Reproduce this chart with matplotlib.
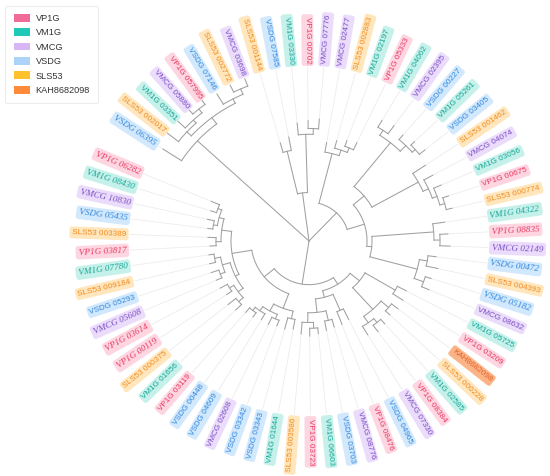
import numpy as np
import matplotlib
matplotlib.use("Agg")
import matplotlib.pyplot as plt
from matplotlib.patches import Patch

# leaf labels, clockwise from the upper-left gap
LABELS = [
    "VSDG 06395", "SLS53 002017", "VM1G 03351", "VMCG 05880", "VP1G 057995",
    "VSDG 07146", "SLS53 002772", "VMCG 03698", "SLS53 001144", "VSDG 07585",
    "VM1G 03330", "VP1G 00702", "VMCG 07776", "VMCG 02477", "SLS53 002883",
    "VM1G 02197", "VP1G 05333", "VM1G 04062", "VMCG 02395", "VSDG 00227",
    "VM1G 05261", "VSDG 03405", "SLS53 001462", "VMCG 04074", "VM1G 03056",
    "VP1G 00675", "SLS53 000774", "VM1G 04322", "VP1G 08835", "VMCG 02149",
    "VSDG 00472", "SLS53 004393", "VSDG 05182", "VMCG 08632", "VM1G 05725",
    "VP1G 03209", "KAH8682098", "SLS53 000228", "VM1G 02585", "VP1G 08384",
    "VMCG 07330", "VSDG 04965", "VP1G 08476", "VMCG 08776", "VSDG 03703",
    "VM1G 06603", "VP1G 03723", "SLS53 003586", "VM1G 01644", "VSDG 03343",
    "VSDG 03342", "VMCG 02608", "VSDG 04609", "VSDG 00448", "VP1G 03119",
    "VM1G 01656", "SLS53 000375", "VP1G 00119", "VP1G 03614", "VMCG 05608",
    "VSDG 05293", "SLS53 009184", "VM1G 07780", "VP1G 03817", "SLS53 003389",
    "VSDG 05435", "VMCG 10830", "VM1G 08430", "VP1G 06282",
]

# labels drawn in an italic serif face in the original
SERIF_LABELS = [
    "VSDG 06395", "VP1G 06282", "VM1G 08430", "VMCG 10830", "VSDG 05435",
    "VP1G 03817", "VM1G 07780", "VMCG 05608", "VP1G 03614", "VP1G 00119",
    "VM1G 04322", "VP1G 08835", "VMCG 02149", "VSDG 00472", "VSDG 05182",
]

GROUPS = ["VP1G", "VM1G", "VMCG", "VSDG", "SLS53", "KAH8682098"]
LEGEND_COLORS = ["#f06b98", "#1fc9b6", "#d8b6f6", "#acd3f8", "#ffc22c", "#ff8a3a"]
BOX_COLORS = ["#fdd6e2", "#c6f1ea", "#eadcfa", "#d2e8fc", "#ffe6bc", "#fcb487"]
TEXT_COLORS = ["#e9385f", "#13a697", "#7a4cc6", "#2d87e0", "#f28a1e", "#e2602a"]

# tree topology, leaves are 1-based positions in LABELS, lengths in px
NEWICK = (
    "((1:22,((2:14,(3:10,(4:6,5:6):5):4):6,(6:12,(7:8,8:8):6):5):8):152,"
    "((9:10,10:14):45,(11:12,(12:8,13:10):6):60):50,"
    "((14:10,(15:8,(16:6,17:8):5):6):53,"
    "((((18:8,19:10):6,(20:6,(21:5,22:7):4):8):58,"
    "(23:15,(24:10,(25:8,(26:6,27:6):5):5):6):53):14,"
    "((28:12,(29:8,30:10):6):62,((31:8,32:12):8,(33:6,34:8):10):49):5):18):40,"
    "(((((64:6,65:8):5,((66:5,67:7):4,(68:6,69:9):4):5):10,"
    "(((60:6,61:8):5,(62:6,63:5):6):8,((56:8,57:10):6,(58:6,59:8):5):6):4):20,"
    "((49:10,50:12):8,((51:6,52:8):5,(53:7,(54:5,55:6):4):5):8):16):13,"
    "(((35:10,36:12):35,((37:8,38:6):10,((39:6,40:8):5,41:10):8):30):12,"
    "((42:12,43:14):18,((44:8,45:10):10,((46:6,47:8):6,48:12):10):14):7):8):45);"
)

CX, CY = 309, 235
SQUASH_Y = 0.97
START_ANGLE = 147.0
STEP = 360.0 / 70
R_GUIDE = 179
R_LABEL = 183


def parse(s):
    pos = 0

    def node():
        nonlocal pos
        children = []
        if s[pos] == "(":
            pos += 1
            children.append(node())
            while s[pos] == ",":
                pos += 1
                children.append(node())
            pos += 1
        start = pos
        while s[pos] not in ":,);":
            pos += 1
        name = s[start:pos]
        length = 0.0
        if s[pos] == ":":
            pos += 1
            start = pos
            while s[pos] not in ",);":
                pos += 1
            length = float(s[start:pos])
        return {"name": name, "len": length, "children": children}

    return node()


def layout(n, r0):
    n["r"] = r0 + n["len"]
    if not n["children"]:
        n["a"] = START_ANGLE - (int(n["name"]) - 1) * STEP
    else:
        for c in n["children"]:
            layout(c, n["r"])
        angs = [c["a"] for c in n["children"]]
        n["a"] = (min(angs) + max(angs)) / 2


def xy(r, a):
    t = np.radians(a)
    return CX + r * np.cos(t), CY + r * np.sin(t) * SQUASH_Y


def draw(ax, n):
    if not n["children"]:
        x0, y0 = xy(n["r"], n["a"])
        x1, y1 = xy(R_GUIDE, n["a"])
        ax.plot([x0, x1], [y0, y1], color="#ececec", lw=0.6, zorder=1)
        return
    angs = [c["a"] for c in n["children"]]
    arc = np.linspace(min(angs), max(angs), 60)
    ax.plot(*xy(n["r"], arc), color="#a0a0a0", lw=0.75, zorder=2)
    for c in n["children"]:
        x0, y0 = xy(n["r"], c["a"])
        x1, y1 = xy(c["r"], c["a"])
        ax.plot([x0, x1], [y0, y1], color="#a0a0a0", lw=0.75, zorder=2)
        draw(ax, c)


tree = parse(NEWICK.replace(" ", ""))
layout(tree, 0.0)

fig = plt.figure(figsize=(5.5, 4.76), dpi=100)
ax = fig.add_axes([0, 0, 1, 1])
ax.set_xlim(0, 550)
ax.set_ylim(0, 476)
ax.axis("off")

draw(ax, tree)

for i, lab in enumerate(LABELS):
    a = START_ANGLE - i * STEP
    g = lab.split()[0]
    k = GROUPS.index(g)
    an = (a + 180) % 360 - 180
    if -90 <= an <= 90:
        rot, ha = an, "left"
    else:
        rot, ha = an + 180, "right"
    x, y = xy(R_LABEL, a)
    if lab in SERIF_LABELS:
        fam, sty, fs = "Liberation Serif", "italic", 6.6
    else:
        fam, sty, fs = "Liberation Sans", "normal", 5.9
    ax.text(x, y, lab, rotation=rot, rotation_mode="anchor", ha=ha, va="center",
            fontsize=fs, family=fam, style=sty, color=TEXT_COLORS[k],
            bbox=dict(boxstyle="round,pad=0.3", fc=BOX_COLORS[k], ec="none"),
            zorder=3)

handles = [Patch(facecolor=c, edgecolor="none", label=g)
           for g, c in zip(GROUPS, LEGEND_COLORS)]
leg = fig.legend(handles=handles, loc="upper left", bbox_to_anchor=(0.0, 1.0),
                 prop={"family": "Liberation Sans", "size": 6.6},
                 handlelength=1.8, handleheight=0.95, labelspacing=0.58,
                 borderpad=0.9, handletextpad=0.6, borderaxespad=0.6,
                 frameon=True, fancybox=True)
leg.get_frame().set_edgecolor("#e8e8e8")
leg.get_frame().set_linewidth(0.8)
for t in leg.get_texts():
    t.set_color("#333333")

fig.savefig("out.png", dpi=100)
